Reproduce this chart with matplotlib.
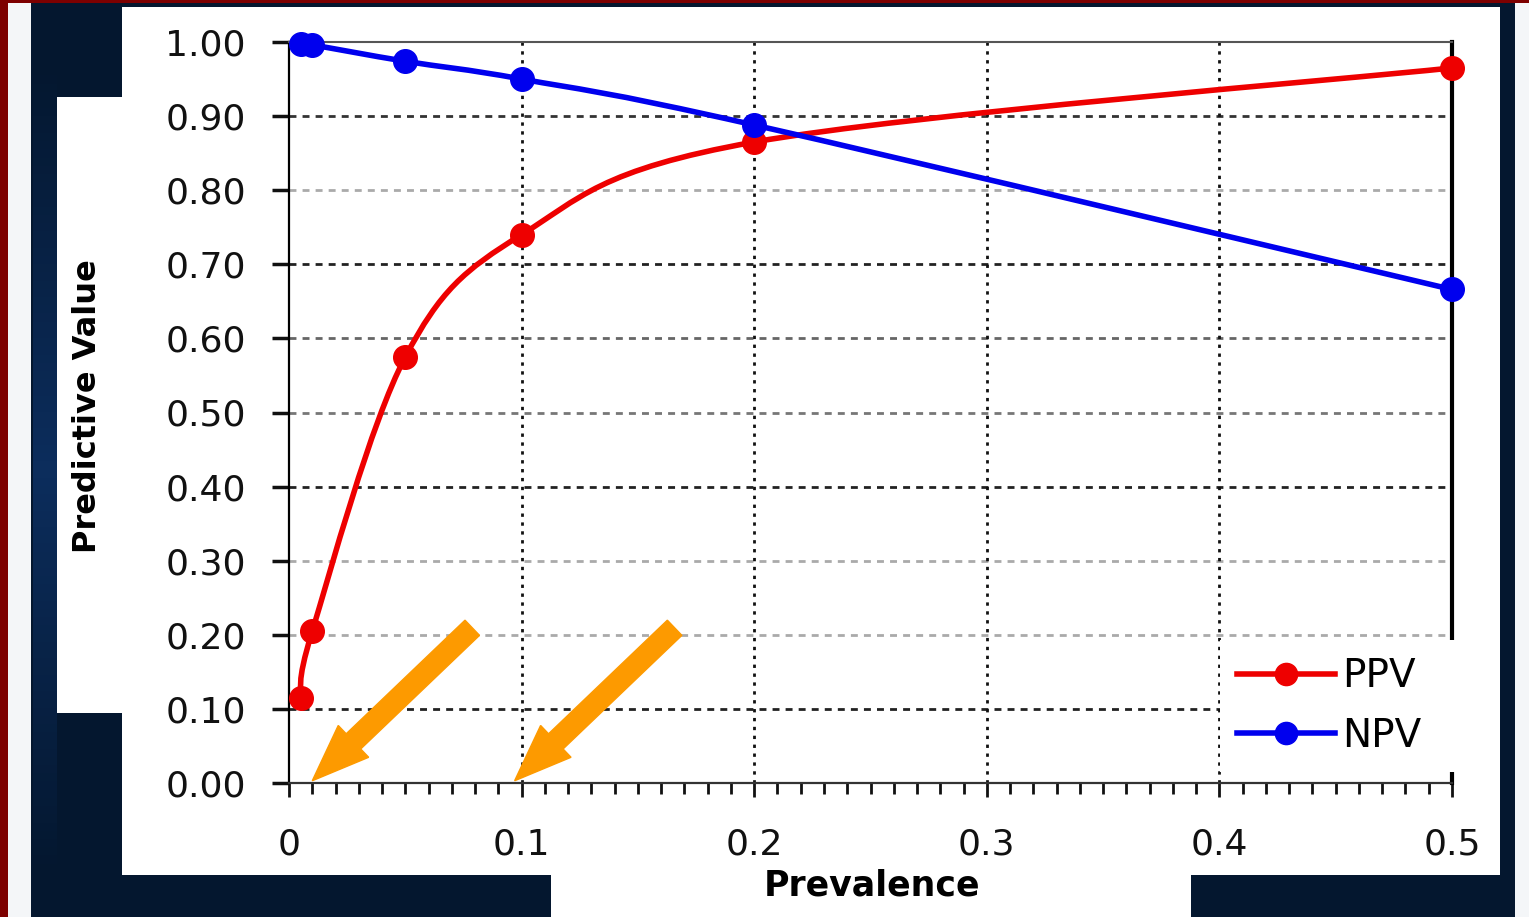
import numpy as np
import matplotlib.pyplot as plt
from matplotlib.path import Path
from matplotlib.patches import PathPatch, Rectangle, FancyArrow
from matplotlib.lines import Line2D
from matplotlib.transforms import IdentityTransform
from matplotlib.colors import LinearSegmentedColormap

# Data
prevalence = [0.005, 0.01, 0.05, 0.1, 0.2, 0.5]
ppv = [0.115, 0.205, 0.575, 0.740, 0.865, 0.965]
npv = [0.997, 0.996, 0.974, 0.950, 0.888, 0.666]
series_names = ['PPV', 'NPV']
x_ticks = [0, 0.1, 0.2, 0.3, 0.4, 0.5]
x_ticklabels = ['0', '0.1', '0.2', '0.3', '0.4', '0.5']
y_ticks = [0.0, 0.1, 0.2, 0.3, 0.4, 0.5, 0.6, 0.7, 0.8, 0.9, 1.0]
y_ticklabels = ['0.00', '0.10', '0.20', '0.30', '0.40', '0.50',
                '0.60', '0.70', '0.80', '0.90', '1.00']
arrow_targets = [0.01, 0.097]  # prevalence values the orange arrows point at

W, H = 1529, 917
RED = '#ee0000'
BLUE = '#0000ee'
NAVY = '#04172f'
ORANGE = '#fd9a00'


def smooth_path(xs, ys):
    # Excel-like smoothed line: Catmull-Rom segments as cubic Beziers
    pts = np.column_stack([xs, ys])
    n = len(pts)
    verts = [pts[0]]
    codes = [Path.MOVETO]
    for i in range(n - 1):
        p0 = pts[max(i - 1, 0)]
        p1 = pts[i]
        p2 = pts[i + 1]
        p3 = pts[min(i + 2, n - 1)]
        verts += [p1 + (p2 - p0) / 6, p2 - (p3 - p1) / 6, p2]
        codes += [Path.CURVE4] * 3
    return Path(verts, codes)


def px_rect(fig, x0, y0, x1, y1, color):
    # rectangle given in image pixels (origin top-left)
    fig.add_artist(Rectangle((x0 / W, 1 - y1 / H), (x1 - x0) / W, (y1 - y0) / H,
                             transform=fig.transFigure, facecolor=color,
                             edgecolor='none', zorder=0))


fig = plt.figure(figsize=(W / 100, H / 100), dpi=100, facecolor='#7d0000')

# slide-like background panels
px_rect(fig, 8, 3, 31, H, '#f4f6f8')
px_rect(fig, 31, 3, 1515, H, NAVY)

# soft blue glow on the left navy strip
glow = fig.add_axes([33 / W, 1 - 880 / H, 24 / W, (880 - 60) / H])
glow.axis('off')
grad = np.concatenate([np.linspace(0, 1, 50), np.linspace(1, 0, 50)])[:, None]
glow.imshow(grad, aspect='auto', extent=(0, 1, 0, 1),
            cmap=LinearSegmentedColormap.from_list('g', [NAVY, '#0c2d5c']))

px_rect(fig, 1515, 3, W, H, '#f4f6f8')
px_rect(fig, 122, 7, 1500, 875, 'white')
px_rect(fig, 57, 97, 122, 713, 'white')
px_rect(fig, 551, 875, 1191, H, 'white')

ax = fig.add_axes([289 / W, 1 - 783 / H, (1452 - 289) / W, (783 - 42) / H])
ax.set_facecolor('white')
ax.set_xlim(0, 0.5)
ax.set_ylim(0, 1.0)

# grid
h_colors = ['#222222', '#aaaaaa', '#aaaaaa', '#222222', '#777777',
            '#666666', '#222222', '#aaaaaa', '#333333']
for yv, c in zip(y_ticks[1:-1], h_colors):
    ax.axhline(yv, color=c, lw=2, dashes=(2.5, 2.2), zorder=1)
for xv in x_ticks[1:-1]:
    ax.axvline(xv, color='#111111', lw=2, dashes=(1.2, 2.0), zorder=1)

# series
for yvals, color, z in [(ppv, RED, 3), (npv, BLUE, 4)]:
    ax.add_patch(PathPatch(smooth_path(prevalence, yvals), facecolor='none',
                           edgecolor=color, lw=4, zorder=z, clip_on=False,
                           capstyle='round', joinstyle='round'))
    ax.plot(prevalence, yvals, linestyle='none', marker='o', ms=17,
            color=color, zorder=z, clip_on=False)

# spines and ticks
for side in ['left', 'bottom', 'top', 'right']:
    ax.spines[side].set_color('black')
ax.spines['left'].set_linewidth(1.6)
ax.spines['bottom'].set_linewidth(1.6)
ax.spines['bottom'].set_color('#333333')
ax.spines['top'].set_linewidth(1.5)
ax.spines['top'].set_color('#555555')
ax.spines['right'].set_linewidth(3)

ax.set_xticks(x_ticks)
ax.set_xticklabels(x_ticklabels)
ax.set_xticks(np.arange(0, 0.5001, 0.01), minor=True)
ax.set_yticks(y_ticks)
ax.set_yticklabels(y_ticklabels)
ax.tick_params(axis='x', which='major', direction='out', length=10, width=2,
               pad=22, labelsize=26, colors='#111111')
ax.tick_params(axis='x', which='minor', direction='out', length=8, width=2,
               color='#111111')
ax.tick_params(axis='y', which='major', direction='out', length=12, width=2.5,
               pad=19, labelsize=26, colors='#111111')

# legend
handles = [Line2D([], [], color=c, lw=4, marker='o', ms=16)
           for c in [RED, BLUE]]
leg = ax.legend(handles, series_names, loc='upper left',
                bbox_to_anchor=(0.8005, 0.0243, 0.205, 0.169), mode='expand',
                borderaxespad=0, borderpad=0.45, handlelength=2.5,
                handletextpad=0.2, labelspacing=0.55, fontsize=28,
                frameon=True, fancybox=False, framealpha=1)
leg.get_frame().set_facecolor('white')
leg.get_frame().set_edgecolor('none')

# axis titles
fig.text(872 / W, 1 - 886 / H, 'Prevalence', ha='center', va='center',
         fontsize=25, fontweight='bold', color='black')
fig.text(88 / W, 1 - 406 / H, 'Predictive Value', ha='center', va='center',
         rotation=90, fontsize=23, fontweight='bold', color='black')

# orange arrows pointing at the x axis
for xt in arrow_targets:
    tip = ax.transData.transform((xt, 0.003))
    tail = tip + np.array([160.0, 153.0])
    fig.add_artist(FancyArrow(tail[0], tail[1], tip[0] - tail[0], tip[1] - tail[1],
                              width=21, head_width=44, head_length=57,
                              length_includes_head=True, color=ORANGE,
                              transform=IdentityTransform(), zorder=10))

fig.savefig('out.png', dpi=100, facecolor=fig.get_facecolor())
